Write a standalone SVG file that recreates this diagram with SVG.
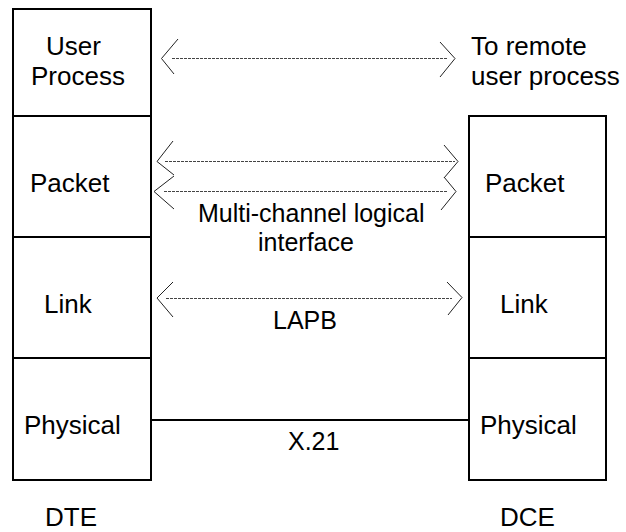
<svg xmlns="http://www.w3.org/2000/svg" width="626" height="532" viewBox="0 0 626 532">
  <style>
    text { font-family: "Liberation Sans", Arial, sans-serif; font-size: 26px; fill: #000; }
    text.note { font-size: 25px; }
    .box { fill: #fff; stroke: #000; stroke-width: 2; }
    .wire { fill: none; stroke: #000; stroke-width: 2; }
    .dash { fill: none; stroke: #444; stroke-width: 1; stroke-dasharray: 3 1; }
    .head { fill: none; stroke: #222; stroke-width: 1; }
  </style>
  <rect width="626" height="532" fill="#fff"/>

  <!-- DTE protocol stack -->
  <g id="dte-user-process">
    <rect class="box" x="13" y="9" width="138" height="107"/>
    <text x="46" y="55">User</text>
    <text x="31" y="85">Process</text>
  </g>
  <g id="dte-packet">
    <rect class="box" x="13" y="116" width="138" height="121"/>
    <text x="30" y="192">Packet</text>
  </g>
  <g id="dte-link">
    <rect class="box" x="13" y="237" width="138" height="121"/>
    <text x="44" y="313">Link</text>
  </g>
  <g id="dte-physical">
    <rect class="box" x="13" y="358" width="138" height="122"/>
    <text x="24" y="434">Physical</text>
  </g>
  <g id="dte-label">
    <text x="45" y="526">DTE</text>
  </g>

  <!-- DCE protocol stack -->
  <g id="remote-user-process">
    <text x="471" y="55">To remote</text>
    <text x="471" y="85">user process</text>
  </g>
  <g id="dce-packet">
    <rect class="box" x="469" y="116" width="137" height="121"/>
    <text x="485" y="192">Packet</text>
  </g>
  <g id="dce-link">
    <rect class="box" x="469" y="237" width="137" height="121"/>
    <text x="500" y="313">Link</text>
  </g>
  <g id="dce-physical">
    <rect class="box" x="469" y="358" width="137" height="122"/>
    <text x="480" y="434">Physical</text>
  </g>
  <g id="dce-label">
    <text x="500" y="526">DCE</text>
  </g>

  <!-- connectors between peer layers -->
  <g id="connectors">
    <g id="user-to-remote">
      <path class="dash" d="M172,58.5 H447"/>
      <path class="head" d="M178,39 L161.5,58.5 L174,74 M440,42 L455,58.5 L440,77"/>
    </g>
    <g id="packet-channel-1">
      <path class="dash" d="M165,161.5 H455"/>
      <path class="head" d="M173,141 L157,161.5 L174,175 M444,145 L458,161.5 L444,178"/>
    </g>
    <g id="packet-channel-2">
      <path class="dash" d="M164,191.5 H447"/>
      <path class="head" d="M174,176 L154,191.5 L174,209 M444,177 L456,191.5 L441,210"/>
    </g>
    <g id="link-lapb">
      <path class="dash" d="M166,298.5 H452"/>
      <path class="head" d="M173,282 L157,298 L173,317 M447,282 L462,297.5 L448,315"/>
    </g>
    <g id="physical-x21">
      <path class="wire" d="M151,420 H469"/>
    </g>
    <text class="note" x="198" y="222">Multi-channel logical</text>
    <text class="note" x="258" y="251">interface</text>
    <text class="note" x="273" y="329">LAPB</text>
    <text class="note" x="288" y="450">X.21</text>
  </g>
</svg>
